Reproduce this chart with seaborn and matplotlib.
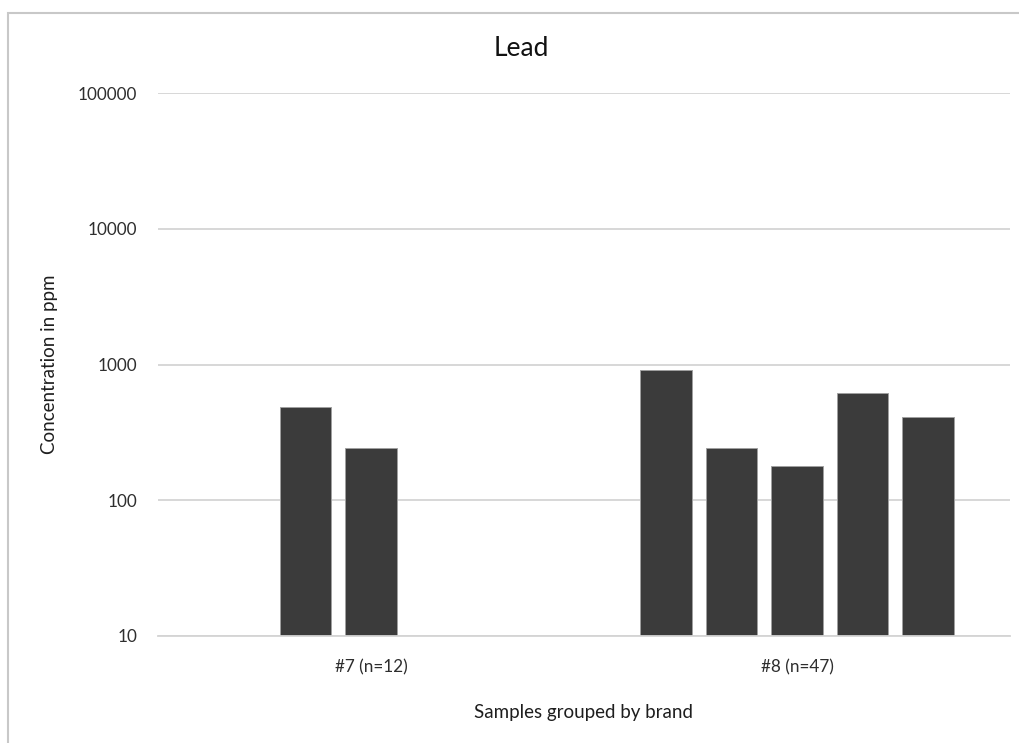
import numpy as np
import pandas as pd
import matplotlib
matplotlib.use("Agg")
import matplotlib.pyplot as plt
import matplotlib.patches as mpatches
from matplotlib.ticker import FixedLocator, NullLocator
import seaborn as sns

# Lead concentration per sample, grouped by brand
brands = ["#7 (n=12)", "#8 (n=47)"]
brand7_slots = [1, 2]
brand7_values = [490, 243]
brand8_slots = [0, 1, 2, 3, 4]
brand8_values = [918, 243, 180, 621, 411]
y_ticks = [10, 100, 1000, 10000, 100000]
y_tick_labels = ["10", "100", "1000", "10000", "100000"]

df = pd.DataFrame({
    "brand": [brands[0]] * len(brand7_values) + [brands[1]] * len(brand8_values),
    "slot": brand7_slots + brand8_slots,
    "ppm": brand7_values + brand8_values,
})

sns.set_theme(style="white")
plt.rcParams["font.family"] = ["Lato", "DejaVu Sans"]

fig = plt.figure(figsize=(10.19, 7.43), dpi=100)
ax = fig.add_axes([158 / 1019, 1 - 636 / 743, (1010 - 158) / 1019, (636 - 93) / 743])
ax.set_yscale("log")

bar_color = "#3b3b3b"
sns.barplot(
    data=df, x="brand", y="ppm", hue="slot", order=brands,
    hue_order=[0, 1, 2, 3, 4], palette=[bar_color] * 5,
    width=0.768, gap=0.21, errorbar=None, legend=False,
    edgecolor="#a0a0a0", linewidth=0.7, ax=ax,
)

ax.set_xlim(-0.5, 1.5)
ax.set_ylim(10, 100000)
ax.yaxis.set_major_locator(FixedLocator(y_ticks))
ax.yaxis.set_minor_locator(NullLocator())
ax.set_yticklabels(y_tick_labels)
ax.grid(axis="y", color="#d4d4d4", linewidth=1.3)
ax.set_axisbelow(True)
for s in ["top", "right", "left"]:
    ax.spines[s].set_visible(False)
ax.spines["bottom"].set_color("#d4d4d4")
ax.spines["bottom"].set_linewidth(1.3)
ax.tick_params(axis="both", length=0, labelsize=12.3, colors="#2e2e2e")
ax.tick_params(axis="y", pad=15)
ax.tick_params(axis="x", pad=17)

ax.set_xlabel("Samples grouped by brand", fontsize=13.5, color="#1e1e1e", labelpad=20)
ax.set_ylabel("Concentration in ppm", fontsize=13.5, color="#1e1e1e", labelpad=14)
fig.text(521 / 1019, 1 - 49 / 743, "Lead", ha="center", va="center",
         fontsize=19, color="#111111")

# chart-area frame
fig.patches.append(mpatches.Rectangle(
    (8 / 1019, -0.1), 1.2, 1.1 - 13 / 743, transform=fig.transFigure,
    fill=False, edgecolor="#c8c8c8", linewidth=1.5))

fig.savefig("out.png", dpi=100)
